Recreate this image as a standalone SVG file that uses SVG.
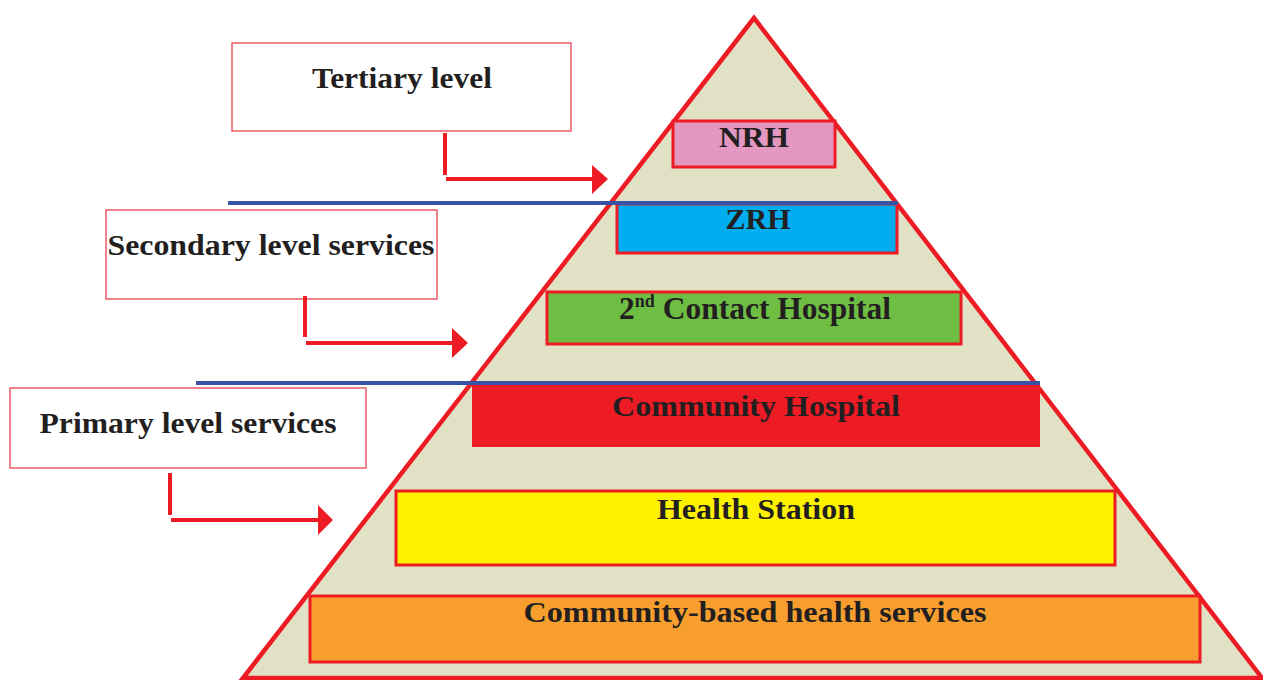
<svg xmlns="http://www.w3.org/2000/svg" width="1263" height="680" viewBox="0 0 1263 680">
<defs>
<style>
.t{font-family:"Liberation Serif","Times New Roman",serif;font-weight:bold;font-size:29px;fill:#231f20;text-anchor:middle}
.lvl{fill:#ffffff;stroke:#ec5a63;stroke-width:1.5}
.tier{stroke:#ed1c24;stroke-width:3}
.div{stroke:#3953a4;stroke-width:4}
.conn{stroke:#ed1c24;stroke-width:4;fill:none}
.head{fill:#ed1c24}
</style>
</defs>
<rect width="1263" height="680" fill="#ffffff"/>
<g id="pyramid">
<polygon points="754,18 243,678 1262,678" fill="#e1e1c6" stroke="#ed1c24" stroke-width="4.5" stroke-linejoin="miter"/>
</g>
<g id="nrh">
<rect class="tier" x="673" y="121" width="162" height="46" fill="#e397c1"/>
<text class="t" x="754" y="147" textLength="70" lengthAdjust="spacingAndGlyphs">NRH</text>
</g>
<g id="zrh">
<rect class="tier" x="617" y="204" width="280" height="49" fill="#00aeef"/>
<text class="t" x="758" y="229" textLength="65" lengthAdjust="spacingAndGlyphs">ZRH</text>
</g>
<g id="second-contact">
<rect class="tier" x="547" y="292" width="414" height="52" fill="#6fbe44"/>
<text class="t" x="755" y="319" style="font-size:31.5px">2<tspan font-size="18" dy="-12">nd</tspan><tspan dy="12"> Contact Hospital</tspan></text>
</g>
<g id="community-hospital">
<rect x="472" y="385" width="568" height="62" fill="#ed1c24"/>
<text class="t" x="756" y="416" textLength="288" lengthAdjust="spacingAndGlyphs">Community Hospital</text>
</g>
<g id="health-station">
<rect class="tier" x="396" y="491" width="719" height="74" fill="#fff200"/>
<text class="t" x="756" y="519" textLength="198" lengthAdjust="spacingAndGlyphs">Health Station</text>
</g>
<g id="community-based">
<rect class="tier" x="310" y="596" width="890" height="66" fill="#f79e2e"/>
<text class="t" x="755" y="622" textLength="463" lengthAdjust="spacingAndGlyphs">Community-based health services</text>
</g>
<g id="dividers">
<line class="div" x1="228" y1="203" x2="898" y2="203"/>
<line class="div" x1="196" y1="383" x2="1040" y2="383"/>
</g>
<g id="tertiary">
<rect class="lvl" x="232" y="43" width="339" height="88"/>
<text class="t" x="402" y="88" textLength="180" lengthAdjust="spacingAndGlyphs">Tertiary level</text>
</g>
<g id="secondary">
<rect class="lvl" x="106" y="210" width="331" height="89"/>
<text class="t" x="271" y="255" textLength="327" lengthAdjust="spacingAndGlyphs">Secondary level services</text>
</g>
<g id="primary">
<rect class="lvl" x="10" y="388" width="356" height="80"/>
<text class="t" x="188" y="433" textLength="297" lengthAdjust="spacingAndGlyphs">Primary level services</text>
</g>
<g id="connectors">
<line class="conn" x1="445" y1="133" x2="445" y2="175"/>
<line class="conn" x1="446" y1="179" x2="594" y2="179"/>
<polygon class="head" points="592,165 608,179 592,194"/>
<line class="conn" x1="305" y1="296" x2="305" y2="337"/>
<line class="conn" x1="306" y1="343" x2="454" y2="343"/>
<polygon class="head" points="452,328 468,343 452,358"/>
<line class="conn" x1="170" y1="473" x2="170" y2="515"/>
<line class="conn" x1="171" y1="520" x2="320" y2="520"/>
<polygon class="head" points="318,505 333,520 318,535"/>
</g>
</svg>
